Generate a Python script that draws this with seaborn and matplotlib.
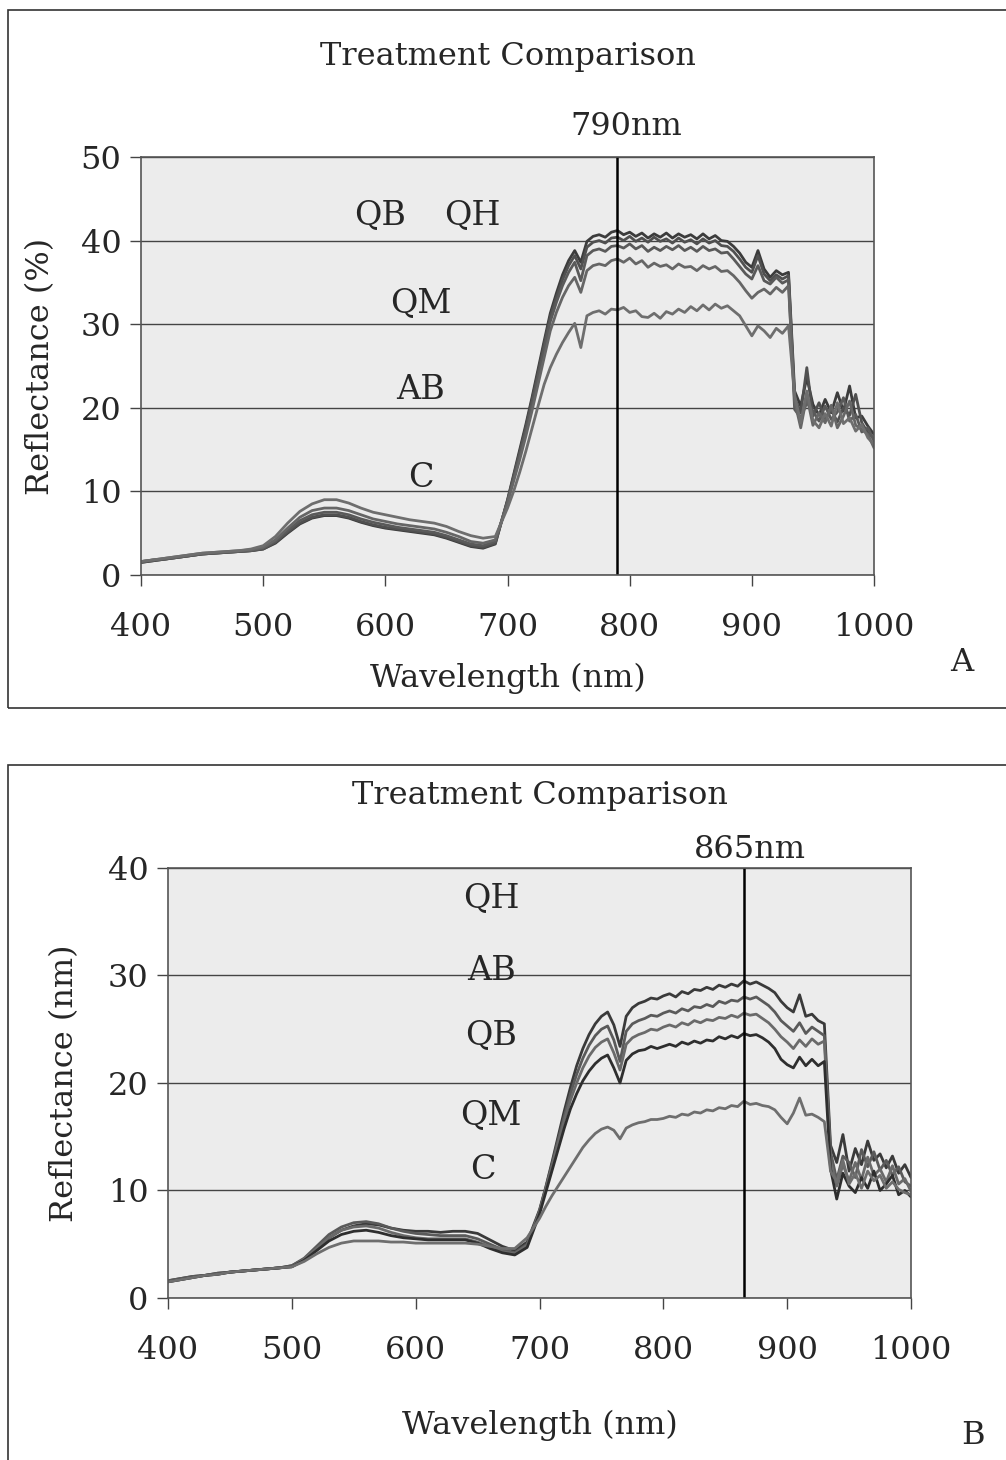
import numpy as np
import pandas as pd
import matplotlib
matplotlib.use("Agg")
import matplotlib.pyplot as plt
import seaborn as sns
from matplotlib.patches import Rectangle

# wavelength grid (nm): 10 nm steps in the visible, 5 nm steps from 700 nm
wl = list(range(400, 700, 10)) + list(range(700, 1001, 5))

# ---- panel A, reflectance (%) ----
a_qb = [1.5, 1.7, 1.9, 2.1, 2.3, 2.5, 2.6, 2.7, 2.8, 2.9, 3.1, 3.8, 5.0, 6.1, 6.8, 7.1, 7.1, 6.8, 6.3, 5.9,
        5.6, 5.4, 5.2, 5.0, 4.8, 4.4, 3.9, 3.4, 3.2, 3.7,
        9.0, 12.0, 15.0, 18.0, 21.2, 24.6, 28.0, 31.3, 33.7, 35.9, 37.6, 38.8, 37.4, 39.9, 40.5, 40.7, 40.4,
        41.0, 41.2, 40.7, 41.0, 40.5, 40.9, 40.3, 40.8, 40.4, 40.9, 40.3, 40.8, 40.4, 40.7, 40.2, 40.8, 40.2,
        40.6, 40.0, 39.9, 39.3, 38.5, 37.4, 36.8, 38.8, 36.6, 35.6, 36.4, 35.9, 36.2, 22.0, 20.2, 23.6, 20.4,
        19.1, 21.0, 19.4, 21.8, 19.6, 22.6, 18.8, 19.0, 17.8, 16.8]
a_qh = [1.5, 1.7, 1.9, 2.1, 2.3, 2.5, 2.6, 2.7, 2.8, 2.9, 3.1, 3.9, 5.1, 6.2, 6.9, 7.2, 7.2, 6.9, 6.4, 6.0,
        5.7, 5.5, 5.3, 5.1, 4.9, 4.5, 4.0, 3.5, 3.3, 3.8,
        8.9, 11.8, 14.7, 17.7, 20.9, 24.2, 27.6, 30.9, 33.2, 35.3, 37.0, 38.2, 36.6, 39.2, 39.8, 40.0, 39.7,
        40.3, 40.4, 40.0, 40.5, 39.9, 40.3, 39.8, 40.4, 39.9, 40.2, 39.7, 40.3, 39.8, 40.1, 39.6, 40.2, 39.7,
        40.0, 39.4, 39.3, 38.7, 37.8, 36.8, 36.2, 38.2, 36.0, 35.2, 35.9, 35.4, 35.8, 21.2, 19.4, 24.8, 19.0,
        20.6, 18.7, 19.8, 18.3, 20.0, 19.1, 21.6, 18.2, 17.0, 16.3]
a_qm = [1.6, 1.8, 1.9, 2.1, 2.3, 2.5, 2.6, 2.7, 2.8, 2.9, 3.2, 4.0, 5.3, 6.5, 7.2, 7.5, 7.5, 7.2, 6.7, 6.3,
        6.0, 5.7, 5.5, 5.3, 5.1, 4.7, 4.2, 3.7, 3.5, 4.0,
        8.8, 11.6, 14.4, 17.3, 20.4, 23.7, 27.0, 30.3, 32.6, 34.6, 36.2, 37.4, 35.2, 38.2, 38.8, 39.0, 38.7,
        39.3, 39.4, 39.1, 39.6, 39.0, 39.4, 38.7, 39.2, 38.8, 39.3, 38.9, 39.4, 38.8, 39.2, 38.7, 39.3, 38.8,
        39.0, 38.5, 38.6, 37.8, 36.9, 36.0, 35.4, 37.0, 35.2, 34.8, 35.6, 34.9, 35.3, 19.8, 18.8, 20.6, 19.6,
        18.4, 20.2, 18.6, 19.5, 21.2, 18.4, 19.2, 17.1, 17.6, 16.0]
a_ab = [1.6, 1.8, 2.0, 2.2, 2.4, 2.6, 2.7, 2.8, 2.9, 3.0, 3.3, 4.2, 5.6, 6.9, 7.7, 8.0, 8.0, 7.7, 7.2, 6.7,
        6.4, 6.1, 5.9, 5.7, 5.5, 5.1, 4.6, 4.0, 3.8, 4.2,
        8.6, 11.2, 13.8, 16.6, 19.6, 22.8, 26.0, 29.2, 31.4, 33.2, 34.6, 35.6, 33.8, 36.4, 37.0, 37.2, 37.0,
        37.6, 37.8, 37.4, 37.9, 37.2, 37.6, 36.8, 37.3, 36.9, 37.1, 36.6, 37.2, 36.8, 36.9, 36.4, 37.0, 36.6,
        36.9, 36.3, 36.4, 35.8, 35.0, 34.0, 33.1, 33.8, 34.2, 33.6, 34.4, 33.8, 34.6, 20.8, 17.6, 21.4, 17.9,
        19.4, 18.2, 20.3, 17.6, 19.0, 20.8, 17.9, 17.4, 16.8, 15.2]
a_c = [1.6, 1.8, 2.0, 2.2, 2.4, 2.6, 2.7, 2.8, 2.9, 3.1, 3.5, 4.6, 6.2, 7.6, 8.5, 9.0, 9.0, 8.6, 8.0, 7.5,
       7.2, 6.9, 6.6, 6.4, 6.2, 5.8, 5.2, 4.7, 4.4, 4.6,
       8.0, 10.0, 12.3, 14.8, 17.5, 20.2, 22.8, 24.8, 26.4, 27.8, 29.0, 30.1, 27.2, 31.0, 31.4, 31.6, 31.2,
       31.8, 31.7, 32.0, 31.4, 31.6, 30.9, 30.8, 31.3, 30.7, 31.5, 31.2, 31.8, 31.4, 32.1, 31.6, 32.3, 31.7,
       32.4, 31.9, 32.2, 31.6, 31.0, 29.8, 28.6, 29.8, 29.2, 28.4, 29.5, 28.9, 29.8, 21.5, 18.2, 22.0, 18.5,
       17.6, 19.3, 17.8, 20.6, 18.1, 18.8, 17.2, 18.0, 16.4, 15.6]

# ---- panel B ----
b_1 = [1.6, 1.8, 2.0, 2.1, 2.3, 2.4, 2.5, 2.6, 2.7, 2.8, 3.0, 3.6, 4.6, 5.6, 6.3, 6.7, 6.9, 6.8, 6.5, 6.3,
       6.2, 6.2, 6.1, 6.2, 6.2, 6.0, 5.4, 4.8, 4.4, 5.2,
       8.2, 10.3, 12.6, 15.0, 17.4, 19.6, 21.6, 23.2, 24.5, 25.5, 26.2, 26.6, 25.4, 23.4, 26.2, 27.0, 27.4,
       27.6, 27.9, 27.8, 28.1, 28.3, 28.0, 28.5, 28.3, 28.7, 28.6, 28.9, 28.7, 29.1, 28.9, 29.2, 29.0, 29.5,
       29.2, 29.4, 29.1, 28.8, 28.4, 27.6, 27.0, 26.6, 28.2, 26.2, 26.4, 25.8, 25.5, 14.2, 12.6, 15.2, 11.8,
       13.9, 12.4, 14.6, 12.8, 13.4, 12.1, 13.2, 11.6, 12.4, 11.2]
b_2 = [1.6, 1.8, 2.0, 2.1, 2.3, 2.4, 2.5, 2.6, 2.7, 2.8, 3.0, 3.7, 4.8, 5.9, 6.6, 7.0, 7.1, 6.9, 6.5, 6.2,
       6.0, 5.9, 5.8, 5.8, 5.8, 5.5, 5.0, 4.5, 4.2, 5.0,
       8.1, 10.2, 12.4, 14.7, 16.9, 19.0, 20.8, 22.3, 23.5, 24.4, 25.0, 25.3, 24.0, 22.0, 24.8, 25.5, 25.8,
       26.0, 26.3, 26.2, 26.5, 26.7, 26.5, 26.9, 26.7, 27.1, 27.0, 27.3, 27.1, 27.6, 27.4, 27.7, 27.6, 28.0,
       27.8, 28.0, 27.6, 27.2, 26.6, 25.8, 25.3, 24.8, 25.6, 24.6, 25.2, 24.8, 24.4, 13.6, 11.0, 13.2, 12.6,
       11.2, 13.8, 12.2, 13.6, 11.9, 12.8, 11.4, 12.2, 10.8, 10.4]
b_3 = [1.5, 1.7, 1.9, 2.1, 2.2, 2.4, 2.5, 2.6, 2.7, 2.8, 2.9, 3.6, 4.6, 5.6, 6.3, 6.6, 6.7, 6.5, 6.1, 5.8,
       5.6, 5.5, 5.5, 5.5, 5.5, 5.2, 4.8, 4.3, 4.1, 4.9,
       8.0, 10.1, 12.2, 14.4, 16.5, 18.4, 20.0, 21.4, 22.5, 23.3, 23.8, 24.1, 22.8, 21.2, 23.6, 24.2, 24.5,
       24.7, 25.0, 24.9, 25.2, 25.4, 25.2, 25.6, 25.4, 25.8, 25.6, 25.9, 25.8, 26.1, 26.0, 26.3, 26.1, 26.5,
       26.3, 26.4, 26.0, 25.6, 25.0, 24.3, 23.8, 23.2, 24.0, 23.4, 24.1, 23.6, 23.9, 12.8, 10.4, 12.4, 10.9,
       12.6, 11.0, 13.1, 11.4, 12.0, 10.8, 12.3, 10.6, 11.1, 9.9]
b_4 = [1.5, 1.7, 1.9, 2.1, 2.2, 2.4, 2.5, 2.6, 2.7, 2.8, 2.9, 3.5, 4.4, 5.3, 5.9, 6.2, 6.3, 6.1, 5.8, 5.6,
       5.5, 5.4, 5.4, 5.4, 5.4, 5.1, 4.6, 4.2, 4.0, 4.7,
       7.8, 9.8, 11.8, 13.8, 15.8, 17.6, 19.0, 20.2, 21.1, 21.8, 22.3, 22.6, 21.4, 20.0, 22.1, 22.7, 23.0,
       23.1, 23.4, 23.2, 23.4, 23.6, 23.4, 23.8, 23.6, 23.9, 23.7, 24.0, 23.9, 24.3, 24.1, 24.4, 24.2, 24.6,
       24.4, 24.5, 24.2, 23.8, 23.2, 22.2, 21.7, 21.4, 22.4, 21.6, 22.2, 21.6, 22.0, 12.0, 9.2, 11.6, 10.4,
       9.8, 11.2, 10.2, 11.8, 10.0, 10.6, 11.4, 9.6, 10.0, 9.4]
b_5 = [1.5, 1.7, 1.9, 2.1, 2.2, 2.4, 2.5, 2.6, 2.7, 2.8, 2.9, 3.4, 4.1, 4.7, 5.1, 5.3, 5.3, 5.3, 5.2, 5.2,
       5.1, 5.1, 5.1, 5.1, 5.1, 5.0, 4.8, 4.6, 4.6, 5.6,
       7.4, 8.5, 9.5, 10.4, 11.3, 12.2, 13.1, 14.0, 14.7, 15.3, 15.7, 15.9, 15.6, 14.8, 15.8, 16.1, 16.3,
       16.4, 16.6, 16.6, 16.7, 16.9, 16.8, 17.1, 17.0, 17.3, 17.2, 17.5, 17.4, 17.7, 17.6, 17.9, 17.8, 18.3,
       18.0, 18.1, 17.9, 17.8, 17.5, 16.8, 16.2, 17.2, 18.6, 17.0, 17.1, 16.8, 16.4, 11.8, 10.8, 12.8, 10.6,
       11.6, 10.2, 11.8, 10.9, 11.4, 10.2, 10.8, 10.1, 9.8, 9.6]

series_a = {"QB": a_qb, "QH": a_qh, "QM": a_qm, "AB": a_ab, "C": a_c}
series_b = {"QH": b_1, "AB": b_2, "QB": b_3, "QM": b_4, "C": b_5}

grays_a = ["#3c3c3c", "#505050", "#5a5a5a", "#666666", "#6e6e6e"]
grays_b = ["#3a3a3a", "#5a5a5a", "#6a6a6a", "#2e2e2e", "#6e6e6e"]


def long_df(series):
    rows = []
    for name, vals in series.items():
        for x, y in zip(wl, vals):
            rows.append((name, x, y))
    return pd.DataFrame(rows, columns=["treatment", "wavelength", "reflectance"])


sns.set_theme(style="white")
plt.rcParams["font.family"] = ["DejaVu Serif"]
FS = 23
FS_LAB = 24

fig = plt.figure(figsize=(10.06, 14.6), dpi=100)

# panel frames
fig.patches.append(Rectangle((0.008, 0.515), 1.1, 0.478, transform=fig.transFigure,
                             fill=False, edgecolor="#333333", lw=1.2))
fig.patches.append(Rectangle((0.008, -0.1), 1.1, 0.576, transform=fig.transFigure,
                             fill=False, edgecolor="#333333", lw=1.2))

axA = fig.add_axes([0.1402, 0.6062, 0.7286, 0.2863])
axB = fig.add_axes([0.1670, 0.1110, 0.7386, 0.2945])


def style_axis(ax, ymax, ystep):
    ax.set_facecolor("#ececec")
    ax.set_xlim(400, 1000)
    ax.set_ylim(0, ymax)
    ax.set_xticks(range(400, 1001, 100))
    ax.set_yticks(range(0, ymax + 1, ystep))
    ax.grid(axis="y", color="#444444", lw=1.0)
    ax.grid(axis="x", visible=False)
    ax.set_axisbelow(True)
    for s in ax.spines.values():
        s.set_color("#555555")
        s.set_linewidth(1.2)
    ax.tick_params(axis="both", labelsize=FS, direction="out", length=8, width=1,
                   color="#444444", bottom=True, left=True)
    ax.tick_params(axis="x", pad=19)
    ax.tick_params(axis="y", pad=6)


# ---------- panel A ----------
dfA = long_df(series_a)
sns.lineplot(data=dfA, x="wavelength", y="reflectance", hue="treatment",
             palette=grays_a, estimator=None, legend=False, lw=2.0, ax=axA)
style_axis(axA, 50, 10)
axA.axvline(790, color="black", lw=1.8)
axA.set_xlabel("Wavelength (nm)", fontsize=FS, labelpad=14)
axA.set_ylabel("Reflectance (%)", fontsize=FS, labelpad=18)
axA.set_title("Treatment Comparison", fontsize=FS, pad=66)
axA.text(797, 53.6, "790nm", fontsize=FS, ha="center", va="center")
for lab, x, y in [("QB", 596, 43.1), ("QH", 671, 43.1), ("QM", 629, 32.5),
                  ("AB", 629, 22.1), ("C", 629, 11.6)]:
    axA.text(x, y, lab, fontsize=FS_LAB, ha="center", va="center")
fig.text(0.956, 1 - 662 / 1460, "A", fontsize=FS, ha="center", va="center")

# ---------- panel B ----------
dfB = long_df(series_b)
sns.lineplot(data=dfB, x="wavelength", y="reflectance", hue="treatment",
             palette=grays_b, estimator=None, legend=False, lw=2.0, ax=axB)
style_axis(axB, 40, 10)
axB.axvline(865, color="black", lw=1.8)
axB.set_xlabel("Wavelength (nm)", fontsize=FS, labelpad=31)
axB.set_ylabel("Reflectance (nm)", fontsize=FS, labelpad=20)
axB.set_title("Treatment Comparison", fontsize=FS, pad=46)
axB.text(870, 41.7, "865nm", fontsize=FS, ha="center", va="center")
for lab, x, y in [("QH", 661, 37.2), ("AB", 661, 30.4), ("QB", 661, 24.5),
                  ("QM", 661, 17.0), ("C", 654, 11.9)]:
    axB.text(x, y, lab, fontsize=FS_LAB, ha="center", va="center")
fig.text(0.967, 1 - 1435 / 1460, "B", fontsize=FS, ha="center", va="center")

fig.savefig("out.png", dpi=100, facecolor="white")
